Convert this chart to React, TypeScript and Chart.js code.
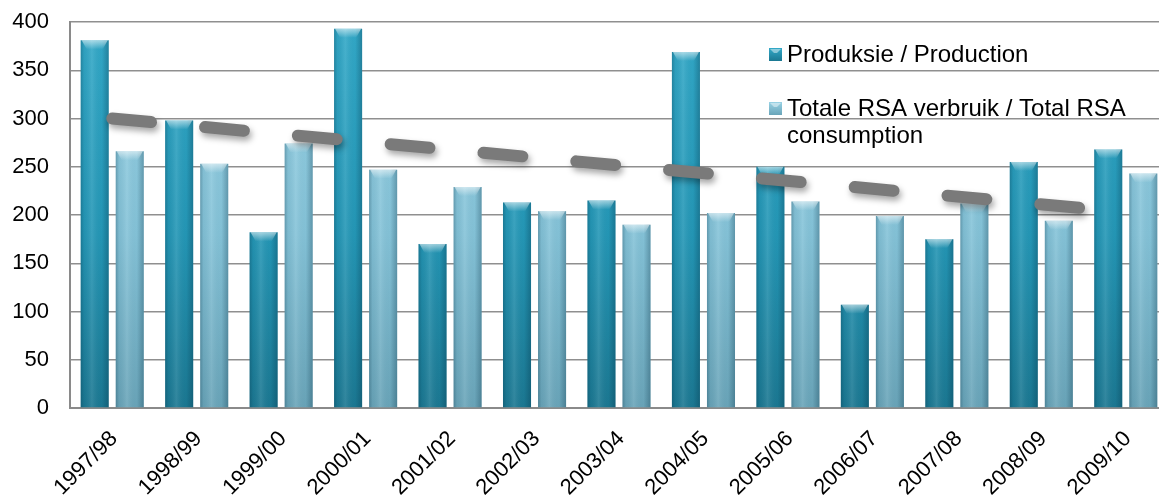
import { useEffect, useRef } from "react";
import { Chart, registerables } from "chart.js";

Chart.register(...registerables);

// Seasons on the category axis
const seasons = [
  "1997/98", "1998/99", "1999/00", "2000/01", "2001/02", "2002/03", "2003/04",
  "2004/05", "2005/06", "2006/07", "2007/08", "2008/09", "2009/10",
];

// Produksie / Production
const production = [381, 298, 182, 393, 170, 213, 215, 369, 250, 107, 175, 255, 268];

// Totale RSA verbruik / Total RSA consumption
const consumption = [266, 253, 274, 247, 229, 204, 190, 202, 214, 199, 212, 194, 243];

// Linear trend of production: value at the first and at the last season
const trendFirst = 300;
const trendLast = 203;

// Value axis
const yMin = 0;
const yMax = 400;
const yStep = 50;

const legendItems = [
  { lines: ["Produksie / Production"], dataset: 0 },
  { lines: ["Totale RSA verbruik / Total RSA", "consumption"], dataset: 1 },
];

const FONT = "'Liberation Sans', Arial, sans-serif";

const palettes = [
  { top: "#33a9c8", mid: "#2497b6", bottom: "#1b7892" },
  { top: "#98d2e5", mid: "#85c3d8", bottom: "#6aa5b9" },
];

function verticalFill(index: number) {
  return (ctx: any) => {
    const chart = ctx.chart;
    const area = chart.chartArea;
    const p = palettes[index];
    if (!area) return p.mid;
    const g = chart.ctx.createLinearGradient(0, area.top, 0, area.bottom);
    g.addColorStop(0, p.top);
    g.addColorStop(0.55, p.mid);
    g.addColorStop(1, p.bottom);
    return g;
  };
}

// Cylinder-like shading and a bevelled cap on every bar
const barShading = {
  id: "barShading",
  afterDatasetDraw(chart: any, args: any) {
    const meta = args.meta;
    if (meta.type !== "bar") return;
    const ctx = chart.ctx;
    ctx.save();
    for (const el of meta.data) {
      const { x, y, base, width } = el.getProps(["x", "y", "base", "width"], true);
      const left = x - width / 2;
      const h = base - y;
      if (h <= 0) continue;
      const g = ctx.createLinearGradient(left, 0, left + width, 0);
      g.addColorStop(0, "rgba(0,40,60,0.28)");
      g.addColorStop(0.12, "rgba(0,40,60,0.06)");
      g.addColorStop(0.4, "rgba(255,255,255,0.10)");
      g.addColorStop(0.75, "rgba(0,40,60,0.02)");
      g.addColorStop(1, "rgba(0,40,60,0.30)");
      ctx.fillStyle = g;
      ctx.fillRect(left, y, width, h);
      // bevelled top
      const capH = Math.min(9, h);
      const cg = ctx.createLinearGradient(0, y, 0, y + capH);
      cg.addColorStop(0, "rgba(255,255,255,0.55)");
      cg.addColorStop(1, "rgba(255,255,255,0.0)");
      ctx.fillStyle = cg;
      ctx.beginPath();
      ctx.moveTo(left + 1, y);
      ctx.lineTo(left + width - 1, y);
      ctx.lineTo(left + width - 6, y + capH);
      ctx.lineTo(left + 6, y + capH);
      ctx.closePath();
      ctx.fill();
    }
    ctx.restore();
  },
};

// Soft shadow under the dashed trend line
const trendShadow = {
  id: "trendShadow",
  beforeDatasetDraw(chart: any, args: any) {
    if (args.meta.type !== "line") return;
    const ctx = chart.ctx;
    ctx.save();
    ctx.shadowColor = "rgba(0,0,0,0.35)";
    ctx.shadowBlur = 6;
    ctx.shadowOffsetX = 2;
    ctx.shadowOffsetY = 4;
  },
  afterDatasetDraw(chart: any, args: any) {
    if (args.meta.type !== "line") return;
    chart.ctx.restore();
  },
};

// Legend placed inside the plot, upper right
const insideLegend = {
  id: "insideLegend",
  afterDraw(chart: any) {
    const ctx = chart.ctx;
    ctx.save();
    ctx.font = `24px ${FONT}`;
    ctx.textBaseline = "alphabetic";
    ctx.textAlign = "left";
    const markerX = 769;
    const textX = 787;
    const firstBaselines = [62, 116];
    const lineHeight = 27;
    legendItems.forEach((item, i) => {
      const p = palettes[item.dataset];
      const base = firstBaselines[i];
      const my = base - 14;
      const g = ctx.createLinearGradient(0, my, 0, my + 13);
      g.addColorStop(0, p.top);
      g.addColorStop(1, p.bottom);
      ctx.fillStyle = g;
      ctx.fillRect(markerX, my, 13, 13);
      ctx.fillStyle = "rgba(255,255,255,0.45)";
      ctx.beginPath();
      ctx.moveTo(markerX + 1, my + 1);
      ctx.lineTo(markerX + 12, my + 1);
      ctx.lineTo(markerX + 8, my + 5);
      ctx.lineTo(markerX + 5, my + 5);
      ctx.closePath();
      ctx.fill();
      ctx.fillStyle = "#000000";
      item.lines.forEach((line, j) => {
        ctx.fillText(line, textX, base + j * lineHeight);
      });
    });
    ctx.restore();
  },
};

export default function App() {
  const canvasRef = useRef<HTMLCanvasElement | null>(null);

  useEffect(() => {
    const canvas = canvasRef.current;
    if (!canvas) return;
    const trend = seasons.map((_, i) =>
      i === 0 ? trendFirst : i === seasons.length - 1 ? trendLast : null
    );
    const chart = new Chart(canvas, {
      type: "bar",
      data: {
        labels: seasons,
        datasets: [
          {
            type: "bar",
            label: "Produksie / Production",
            data: production,
            backgroundColor: verticalFill(0),
            borderWidth: 0,
            categoryPercentage: 0.83,
            barPercentage: 0.8,
            order: 1,
          },
          {
            type: "bar",
            label: "Totale RSA verbruik / Total RSA consumption",
            data: consumption,
            backgroundColor: verticalFill(1),
            borderWidth: 0,
            categoryPercentage: 0.83,
            barPercentage: 0.8,
            order: 1,
          },
          {
            type: "line",
            label: "Trend",
            data: trend as any,
            spanGaps: true,
            borderColor: "#7a7a7a",
            borderWidth: 12,
            borderCapStyle: "round",
            borderDash: [39, 54.2],
            pointRadius: 0,
            tension: 0,
            fill: false,
            order: 0,
          } as any,
        ],
      },
      options: {
        responsive: false,
        animation: false,
        layout: { padding: { top: 22, left: 0, right: 0, bottom: 0 } },
        plugins: {
          legend: { display: false },
          tooltip: { enabled: false },
        },
        scales: {
          x: {
            grid: { display: false, drawTicks: false },
            border: { display: true, color: "#8a8a8a", width: 2 },
            ticks: {
              color: "#000000",
              font: { family: FONT, size: 22 },
              minRotation: 45,
              maxRotation: 45,
              autoSkip: false,
              padding: 18,
              labelOffset: 2,
            },
            afterFit: (s: any) => {
              s.height = 91;
            },
          },
          y: {
            min: yMin,
            max: yMax,
            grid: {
              color: "#8f8f8f",
              lineWidth: 1.5,
              drawTicks: true,
              tickLength: 21,
              tickColor: "rgba(0,0,0,0)",
            },
            border: { display: true, color: "#8a8a8a", width: 2 },
            ticks: {
              stepSize: yStep,
              color: "#000000",
              font: { family: FONT, size: 22 },
              padding: 0,
            },
            afterFit: (s: any) => {
              s.width = 70;
            },
          },
        },
      },
      plugins: [barShading, trendShadow, insideLegend],
    });
    return () => chart.destroy();
  }, []);

  return (
    <div
      style={{
        position: "fixed",
        left: 0,
        top: 0,
        width: 1159,
        height: 499,
        overflow: "hidden",
        background: "#ffffff",
      }}
    >
      <canvas ref={canvasRef} width={1168} height={499} style={{ display: "block" }} />
    </div>
  );
}
